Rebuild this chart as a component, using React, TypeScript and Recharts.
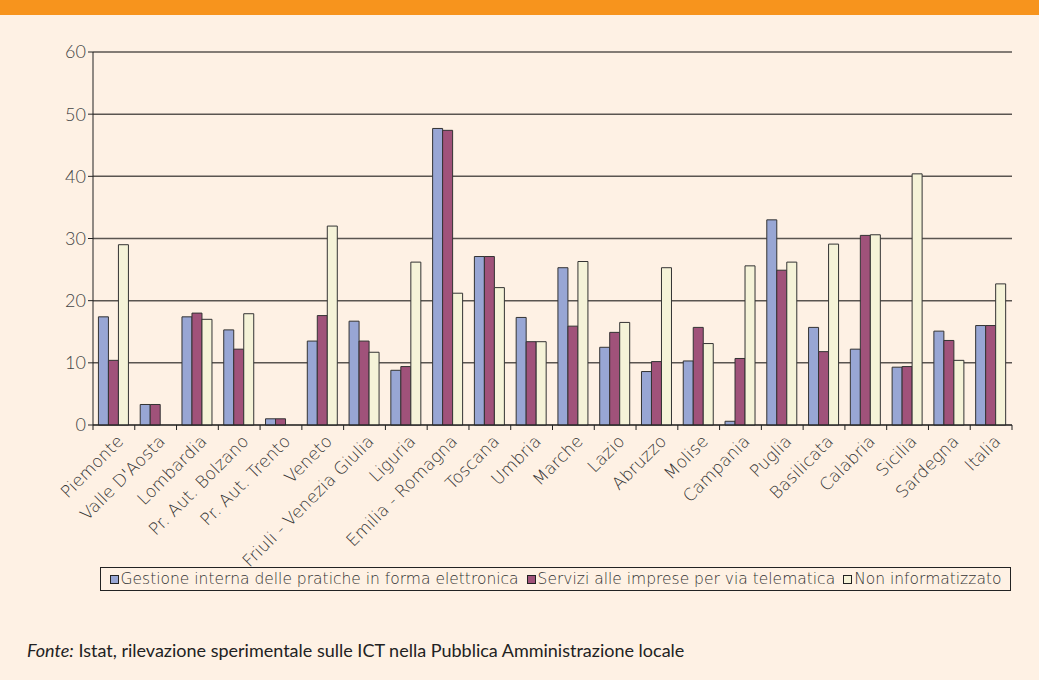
import React from "react";
import {
  BarChart,
  Bar,
  XAxis,
  YAxis,
  CartesianGrid,
} from "recharts";

const regions = [
  "Piemonte",
  "Valle D'Aosta",
  "Lombardia",
  "Pr. Aut. Bolzano",
  "Pr. Aut. Trento",
  "Veneto",
  "Friuli - Venezia Giulia",
  "Liguria",
  "Emilia - Romagna",
  "Toscana",
  "Umbria",
  "Marche",
  "Lazio",
  "Abruzzo",
  "Molise",
  "Campania",
  "Puglia",
  "Basilicata",
  "Calabria",
  "Sicilia",
  "Sardegna",
  "Italia",
];

const gestione = [17.4, 3.3, 17.4, 15.3, 1.0, 13.5, 16.7, 8.8, 47.7, 27.1, 17.3, 25.3, 12.5, 8.6, 10.3, 0.6, 33.0, 15.7, 12.2, 9.3, 15.1, 16.0];
const servizi = [10.4, 3.3, 18.0, 12.2, 1.0, 17.6, 13.5, 9.4, 47.4, 27.1, 13.4, 15.9, 14.9, 10.2, 15.7, 10.7, 24.9, 11.8, 30.5, 9.4, 13.6, 16.0];
const nonInfo = [29.0, 0, 17.0, 17.9, 0, 32.0, 11.7, 26.2, 21.2, 22.1, 13.4, 26.3, 16.5, 25.3, 13.1, 25.6, 26.2, 29.1, 30.6, 40.4, 10.4, 22.7];

const yTicks = [0, 10, 20, 30, 40, 50, 60];

const seriesNames = [
  "Gestione interna delle pratiche in forma elettronica",
  "Servizi alle imprese per via telematica",
  "Non informatizzato",
];
const seriesColors = ["#98a6d4", "#a0527a", "#f5f3d8"];

const data = regions.map((r, i) => ({
  region: r,
  gestione: gestione[i],
  servizi: servizi[i],
  nonInfo: nonInfo[i],
}));

const W = 1039;
const H = 620;
const plotLeft = 93;
const plotRight = 1012;
const step = (plotRight - plotLeft) / regions.length;
const labelFont = "'DejaVu Sans', sans-serif";
const textFont = "Lato, 'Open Sans', sans-serif";

function XTick(props: any) {
  const { x, y, payload, index } = props;
  const isLast = index === regions.length - 1;
  return (
    <g>
      <line x1={x - step / 2} x2={x - step / 2} y1={y - 8} y2={y - 3} stroke="#222" />
      {isLast && (
        <line x1={x + step / 2} x2={x + step / 2} y1={y - 8} y2={y - 3} stroke="#222" />
      )}
      <text
        transform={`translate(${x + 2},${y + 1}) rotate(-45)`}
        textAnchor="end"
        dy="0.7em"
        fontSize={17}
        fontWeight={200}
        fill="#333"
        fontFamily={labelFont}
      >
        {payload.value}
      </text>
    </g>
  );
}

export default function App() {
  return (
    <div
      style={{
        position: "absolute",
        left: 0,
        top: 0,
        width: W,
        height: 680,
        background: "#fef1e4",
        overflow: "hidden",
        fontFamily: textFont,
      }}
    >
      <div style={{ position: "absolute", left: 0, top: 0, width: W, height: 15, background: "#f7941d" }} />
      <div style={{ position: "absolute", left: 0, top: 0 }}>
        <BarChart
          width={W}
          height={H}
          data={data}
          margin={{ top: 52, right: W - plotRight, left: plotLeft - 45, bottom: 0 }}
          barCategoryGap="13%"
          barGap={0}
        >
          <CartesianGrid vertical={false} stroke="#5a5550" strokeWidth={1.5} yAxisId="left" />
          <XAxis
            dataKey="region"
            interval={0}
            height={195}
            tickLine={false}
            axisLine={{ stroke: "#222" }}
            tick={<XTick />}
          />
          <YAxis
            yAxisId="left"
            domain={[0, 60]}
            ticks={yTicks}
            width={45}
            axisLine={{ stroke: "#222" }}
            tickLine={{ stroke: "#222" }}
            tickSize={5}
            tick={{ fontSize: 18, fill: "#444", fontWeight: 300, fontFamily: textFont }}
          />
          <YAxis
            yAxisId="right"
            orientation="right"
            domain={[0, 60]}
            ticks={yTicks}
            width={0}
            tick={false}
            tickLine={false}
            axisLine={{ stroke: "#8fa0b4", strokeWidth: 1.5 }}
          />
          <Bar yAxisId="left" dataKey="gestione" fill={seriesColors[0]} stroke="#333" isAnimationActive={false} />
          <Bar yAxisId="left" dataKey="servizi" fill={seriesColors[1]} stroke="#333" isAnimationActive={false} />
          <Bar yAxisId="left" dataKey="nonInfo" fill={seriesColors[2]} stroke="#333" isAnimationActive={false} />
        </BarChart>
      </div>
      <div
        style={{
          position: "absolute",
          left: 100,
          top: 567,
          width: 911,
          height: 24,
          boxSizing: "border-box",
          border: "1px solid #222",
          display: "flex",
          alignItems: "center",
          justifyContent: "center",
          gap: 8,
          fontSize: 15.5,
          fontWeight: 200,
          fontFamily: labelFont,
          color: "#333",
          whiteSpace: "nowrap",
        }}
      >
        {seriesNames.map((n, i) => (
          <span key={n} style={{ display: "flex", alignItems: "center" }}>
            <span
              style={{
                display: "inline-block",
                width: 7,
                height: 7,
                background: seriesColors[i],
                border: "1px solid #222",
                marginRight: 2,
              }}
            />
            {n}
          </span>
        ))}
      </div>
      <div
        style={{
          position: "absolute",
          left: 27,
          top: 639,
          fontSize: 18,
          fontWeight: 400,
          color: "#222",
          whiteSpace: "nowrap",
        }}
      >
        <i>Fonte:</i> Istat, rilevazione sperimentale sulle ICT nella Pubblica Amministrazione locale
      </div>
    </div>
  );
}
